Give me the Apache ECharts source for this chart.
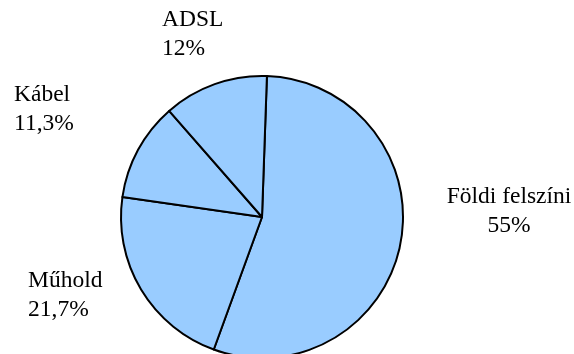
<!DOCTYPE html>
<html>
<head>
<meta charset="utf-8">
<script src="https://cdn.jsdelivr.net/npm/echarts@6/dist/echarts.min.js"></script>
<style>
html,body{margin:0;padding:0;background:#fff;}
#chart{width:574px;height:354px;}
</style>
</head>
<body>
<div id="chart"></div>
<script>
var categories = ['Földi felszíni', 'Műhold', 'Kábel', 'ADSL'];
var shares = [55, 21.7, 11.3, 12];

var labelPlacement = {
  'Földi felszíni': {x: 509, y: 182, align: 'center'},
  'Műhold': {x: 28, y: 266, align: 'left'},
  'Kábel': {x: 14, y: 80, align: 'left'},
  'ADSL': {x: 162, y: 5, align: 'left'}
};

var chart = echarts.init(document.getElementById('chart'), null, {renderer: 'canvas'});
chart.setOption({
  animation: false,
  backgroundColor: '#ffffff',
  series: [{
    type: 'pie',
    center: [262, 217],
    radius: 141,
    startAngle: 88,
    clockwise: true,
    avoidLabelOverlap: false,
    data: categories.map(function (c, i) { return {name: c, value: shares[i]}; }),
    itemStyle: {color: '#99CCFF', borderColor: '#000000', borderWidth: 2},
    emphasis: {disabled: true},
    label: {
      show: true,
      position: 'outside',
      fontFamily: 'Liberation Serif',
      fontSize: 23.5,
      lineHeight: 29,
      color: '#000',
      formatter: function (p) {
        return p.name + '\n' + String(p.value).replace('.', ',') + '%';
      }
    },
    labelLine: {show: false},
    labelLayout: function (params) {
      var pl = labelPlacement[categories[params.dataIndex]];
      return {x: pl.x, y: pl.y, align: pl.align, verticalAlign: 'top'};
    }
  }]
});
</script>
</body>
</html>
